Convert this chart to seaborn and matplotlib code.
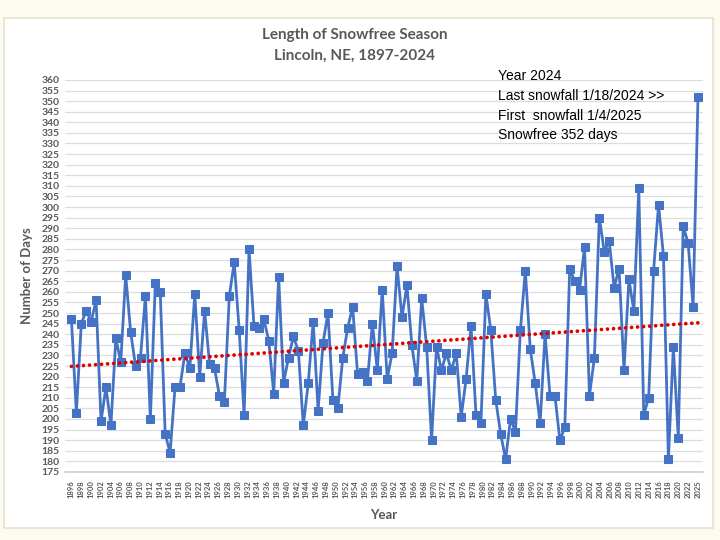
import numpy as np
import pandas as pd
import matplotlib
matplotlib.use("Agg")
import matplotlib.pyplot as plt
import seaborn as sns
from matplotlib.patches import Rectangle

# snowfree season length, one value per year 1897-2024
years = list(range(1897, 2025))
days = [
    247, 203, 245, 251, 246, 256, 199, 215, 197, 238,
    227, 268, 241, 225, 229, 258, 200, 264, 260, 193,
    184, 215, 215, 231, 224, 259, 220, 251, 226, 224,
    211, 208, 258, 274, 242, 202, 280, 244, 243, 247,
    237, 212, 267, 217, 229, 239, 232, 197, 217, 246,
    204, 236, 250, 209, 205, 229, 243, 253, 221, 222,
    218, 245, 223, 261, 219, 231, 272, 248, 263, 235,
    218, 257, 234, 190, 234, 223, 231, 223, 231, 201,
    219, 244, 202, 198, 259, 242, 209, 193, 181, 200,
    194, 242, 270, 233, 217, 198, 240, 211, 211, 190,
    196, 271, 265, 261, 281, 211, 229, 295, 279, 284,
    262, 271, 223, 266, 251, 309, 202, 210, 270, 301,
    277, 181, 234, 191, 291, 283, 253, 352,
]
tick_labels = [str(y) for y in range(1896, 2023, 2)] + ["2025"]
note_lines = [
    "Year 2024",
    "Last snowfall 1/18/2024 >>",
    "First  snowfall 1/4/2025",
    "Snowfree 352 days",
]

df = pd.DataFrame({"idx": np.arange(len(years)), "year": years, "days": days})

sns.set_theme(style="white")
plt.rcParams["font.family"] = ["Lato", "DejaVu Sans"]

fig = plt.figure(figsize=(7.2, 5.4), dpi=100)
fig.patch.set_facecolor("white")
# outer frame like the screenshot
fig.patches.append(Rectangle((0, 0), 1, 1, transform=fig.transFigure,
                             facecolor="#fdfbf0", edgecolor="none", zorder=-3))
fig.patches.append(Rectangle((0.006, 0.022), 0.984, 0.945, transform=fig.transFigure,
                             facecolor="white", edgecolor="#e6e1c8", lw=1.2, zorder=-2))

ax = fig.add_axes([0.0903, 0.126, 0.886, 0.726])
ax.set_facecolor("none")

sns.lineplot(data=df, x="idx", y="days", ax=ax, color="#4472C4", lw=2,
             marker="s", markersize=5.5, markeredgecolor="#4472C4", zorder=3)
sns.regplot(data=df, x="idx", y="days", ax=ax, scatter=False, ci=None,
            line_kws=dict(color="#e00000", lw=2.7, ls=(0, (0.01, 1.6)),
                          dash_capstyle="round", zorder=4))

ax.set_ylim(175, 360)
ax.set_xlim(-1.3, 128)
ax.set_yticks(range(175, 361, 5))
ax.set_xticks(np.linspace(0, len(years) - 1, len(tick_labels)))
ax.set_xticklabels(tick_labels, rotation=90)
ax.yaxis.grid(True, color="#dedede", lw=0.9)
ax.set_axisbelow(True)
for s in ["top", "right", "left"]:
    ax.spines[s].set_visible(False)
ax.spines["bottom"].set_color("#d0d0d0")
ax.tick_params(axis="y", length=0, labelsize=7.5, labelcolor="#595959", pad=4)
ax.tick_params(axis="x", length=0, labelsize=5.5, labelcolor="#595959", pad=6)
for t in ax.get_yticklabels() + ax.get_xticklabels():
    t.set_fontweight("bold")

ax.set_xlabel("Year", fontsize=9.5, color="#595959", fontweight="bold", labelpad=8)
ax.set_ylabel("Number of Days", fontsize=9.5, color="#595959", fontweight="bold",
              labelpad=6)

fig.text(0.493, 0.935, "Length of Snowfree Season", ha="center", va="center",
         fontsize=11, color="#595959", fontweight="bold")
fig.text(0.493, 0.897, "Lincoln, NE, 1897-2024", ha="center", va="center",
         fontsize=11, color="#595959", fontweight="bold")

for i, line in enumerate(note_lines):
    fig.text(0.692, 0.859 - i * 0.0365, line, ha="left", va="center",
             fontsize=10, color="black", family=["Liberation Sans", "DejaVu Sans"])

fig.savefig("out.png", dpi=100)
